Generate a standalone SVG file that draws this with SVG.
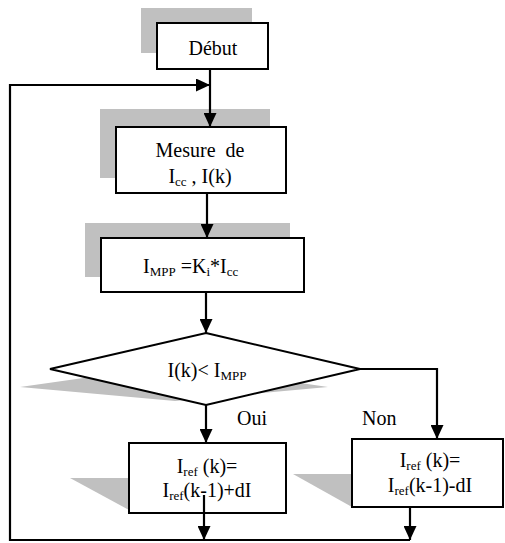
<svg xmlns="http://www.w3.org/2000/svg" width="505" height="543" viewBox="0 0 505 543">
<style>
.box{fill:#fff;stroke:#000;stroke-width:2}
.sh{fill:#c0c0c0;stroke:none}
.t{font-family:"Liberation Serif","Times New Roman",serif;font-size:20px;fill:#000}
.sub{font-size:13px}
.c{fill:none;stroke:#000;stroke-width:2.2}
</style>
<defs>
<marker id="ah" markerUnits="userSpaceOnUse" markerWidth="15" markerHeight="13" refX="14" refY="6.5" orient="auto">
<path d="M0,0 L14,6.5 L0,13 z" fill="#000"/>
</marker>
</defs>
<rect width="505" height="543" fill="#fff"/>
<g id="debut">
<rect class="sh" x="141" y="8" width="111" height="45"/>
<rect class="box" x="157" y="23" width="111" height="46"/>
<text class="t" x="213" y="55" text-anchor="middle">Début</text>
</g>
<g id="mesure">
<rect class="sh" x="100" y="109" width="170" height="69"/>
<rect class="box" x="116" y="127" width="170" height="66"/>
<text class="t" x="200" y="157" text-anchor="middle" xml:space="preserve">Mesure  de</text>
<text class="t" x="200" y="183" text-anchor="middle">I<tspan class="sub" dy="3">cc</tspan><tspan dy="-3"> , I(k)</tspan></text>
</g>
<g id="impp">
<rect class="sh" x="85" y="223" width="205" height="54"/>
<rect class="box" x="101" y="238" width="203" height="54"/>
<text class="t" x="143" y="273">I<tspan class="sub" dy="3">MPP</tspan><tspan dy="-3"> =K</tspan><tspan class="sub" dy="3">i</tspan><tspan dy="-3">*I</tspan><tspan class="sub" dy="3">cc</tspan></text>
</g>
<g id="test">
<polygon class="sh" points="20,387 175,365 328,387 175,401"/>
<polygon class="box" points="206,333 360,369 206,405 50,369"/>
<text class="t" x="207" y="377" text-anchor="middle">I(k)&lt; I<tspan class="sub" dy="3">MPP</tspan></text>
</g>
<g id="plus">
<polygon class="sh" points="70,478 129,478 129,510"/>
<rect class="box" x="129" y="443" width="157" height="70"/>
<text class="t" x="207" y="473" text-anchor="middle">I<tspan class="sub" dy="3">ref</tspan><tspan dy="-3"> (k)=</tspan></text>
<text class="t" x="207" y="497" text-anchor="middle">I<tspan class="sub" dy="3">ref</tspan><tspan dy="-3">(k-1)+dI</tspan></text>
</g>
<g id="moins">
<polygon class="sh" points="293,474 352,474 352,507"/>
<rect class="box" x="352" y="439" width="151" height="68"/>
<text class="t" x="430" y="467" text-anchor="middle">I<tspan class="sub" dy="3">ref</tspan><tspan dy="-3"> (k)=</tspan></text>
<text class="t" x="430" y="492" text-anchor="middle">I<tspan class="sub" dy="3">ref</tspan><tspan dy="-3">(k-1)-dI</tspan></text>
</g>
<g id="labels">
<text class="t" x="237" y="425">Oui</text>
<text class="t" x="362" y="425">Non</text>
</g>
<g id="connectors">
<line class="c" x1="210" y1="69" x2="210" y2="127" marker-end="url(#ah)"/>
<polyline class="c" points="410,540 10,540 10,85 210,85" marker-end="url(#ah)"/>
<line class="c" x1="207" y1="193" x2="207" y2="238" marker-end="url(#ah)"/>
<line class="c" x1="206" y1="292" x2="206" y2="333" marker-end="url(#ah)"/>
<line class="c" x1="206" y1="405" x2="206" y2="443" marker-end="url(#ah)"/>
<polyline class="c" points="360,369 437,369 437,439" marker-end="url(#ah)"/>
<line class="c" x1="204" y1="495" x2="204" y2="540" marker-end="url(#ah)"/>
<line class="c" x1="410" y1="507" x2="410" y2="540" marker-end="url(#ah)"/>
</g>
</svg>
